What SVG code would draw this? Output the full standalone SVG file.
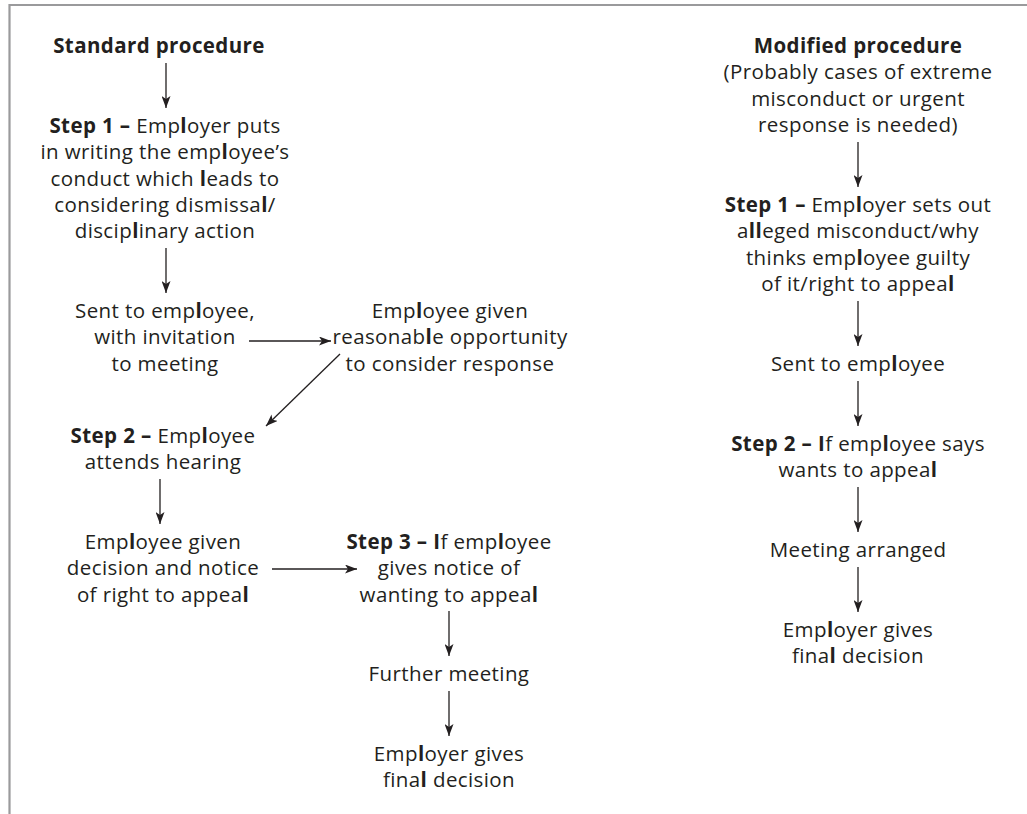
<svg xmlns="http://www.w3.org/2000/svg" width="1027" height="814" viewBox="0 0 1027 814">
<defs>
<style>
text{font-family:"Open Sans","Noto Sans","Liberation Sans",sans-serif;font-size:20.5px;letter-spacing:0.4px;fill:#231f20;text-anchor:middle}
.b{font-weight:bold}
.l{font-weight:bold}
.c{stroke:#231f20;stroke-width:1.3;fill:none;marker-end:url(#ah)}
.frame{stroke:#9a9a9c;stroke-width:2.2;fill:none}
</style>
<marker id="ah" markerUnits="userSpaceOnUse" markerWidth="12" markerHeight="9" refX="12" refY="4.5" orient="auto">
<path d="M0,0 L12,4.5 L0,9 L3,4.5 z" fill="#231f20"/>
</marker>
</defs>
<rect width="1027" height="814" fill="#fff"/>
<path class="frame" d="M9.5,814 V5 H1027"/>

<g id="std-title"><text class="b" x="159" y="53">Standard procedure</text></g>
<g id="std-step1"><text x="165" y="133"><tspan class="b">Step 1 –</tspan> Emp<tspan class="l">l</tspan>oyer puts</text>
<text x="165" y="159.3">in writing the emp<tspan class="l">l</tspan>oyee’s</text>
<text x="165" y="185.6">conduct which <tspan class="l">l</tspan>eads to</text>
<text x="165" y="211.9">considering dismissa<tspan class="l">l</tspan>/</text>
<text x="165" y="238.2">discip<tspan class="l">l</tspan>inary action</text></g>
<g id="std-sent"><text x="165" y="318">Sent to emp<tspan class="l">l</tspan>oyee,</text>
<text x="165" y="344.3">with invitation</text>
<text x="165" y="370.6">to meeting</text></g>
<g id="std-opportunity"><text x="450" y="318">Emp<tspan class="l">l</tspan>oyee given</text>
<text x="450" y="344.3">reasonab<tspan class="l">l</tspan>e opportunity</text>
<text x="450" y="370.6">to consider response</text></g>
<g id="std-step2"><text x="163" y="443"><tspan class="b">Step 2 –</tspan> Emp<tspan class="l">l</tspan>oyee</text>
<text x="163" y="469.3">attends hearing</text></g>
<g id="std-decision"><text x="163" y="549">Emp<tspan class="l">l</tspan>oyee given</text>
<text x="163" y="575.3">decision and notice</text>
<text x="163" y="601.6">of right to appea<tspan class="l">l</tspan></text></g>
<g id="std-step3"><text x="449" y="549"><tspan class="b">Step 3 –</tspan> <tspan class="l">I</tspan>f emp<tspan class="l">l</tspan>oyee</text>
<text x="449" y="575.3">gives notice of</text>
<text x="449" y="601.6">wanting to appea<tspan class="l">l</tspan></text></g>
<g id="std-further"><text x="449" y="681">Further meeting</text></g>
<g id="std-final"><text x="449" y="761">Emp<tspan class="l">l</tspan>oyer gives</text>
<text x="449" y="787.3">fina<tspan class="l">l</tspan> decision</text></g>

<g id="mod-title"><text class="b" x="858" y="53">Modified procedure</text>
<text x="858" y="79.3">(Probably cases of extreme</text>
<text x="858" y="105.6">misconduct or urgent</text>
<text x="858" y="131.9">response is needed)</text></g>
<g id="mod-step1"><text x="858" y="212"><tspan class="b">Step 1 –</tspan> Emp<tspan class="l">l</tspan>oyer sets out</text>
<text x="858" y="238.3">a<tspan class="l">ll</tspan>eged misconduct/why</text>
<text x="858" y="264.6">thinks emp<tspan class="l">l</tspan>oyee guilty</text>
<text x="858" y="290.9">of it/right to appea<tspan class="l">l</tspan></text></g>
<g id="mod-sent"><text x="858" y="371">Sent to emp<tspan class="l">l</tspan>oyee</text></g>
<g id="mod-step2"><text x="858" y="451"><tspan class="b">Step 2 –</tspan> <tspan class="l">I</tspan>f emp<tspan class="l">l</tspan>oyee says</text>
<text x="858" y="477.3">wants to appea<tspan class="l">l</tspan></text></g>
<g id="mod-meeting"><text x="858" y="557">Meeting arranged</text></g>
<g id="mod-final"><text x="858" y="637">Emp<tspan class="l">l</tspan>oyer gives</text>
<text x="858" y="663.3">fina<tspan class="l">l</tspan> decision</text></g>

<g id="connectors">
<line class="c" x1="166" y1="63" x2="166" y2="108"/>
<line class="c" x1="166" y1="248" x2="166" y2="293"/>
<line class="c" x1="249" y1="341" x2="331" y2="341"/>
<line class="c" x1="340" y1="354" x2="266" y2="426"/>
<line class="c" x1="160" y1="479" x2="160" y2="524"/>
<line class="c" x1="272" y1="569" x2="357" y2="569"/>
<line class="c" x1="449" y1="611" x2="449" y2="656"/>
<line class="c" x1="449" y1="691" x2="449" y2="736"/>
<line class="c" x1="858" y1="142" x2="858" y2="187"/>
<line class="c" x1="858" y1="301" x2="858" y2="346"/>
<line class="c" x1="858" y1="381" x2="858" y2="426"/>
<line class="c" x1="858" y1="487" x2="858" y2="532"/>
<line class="c" x1="858" y1="567" x2="858" y2="612"/>
</g>
</svg>
